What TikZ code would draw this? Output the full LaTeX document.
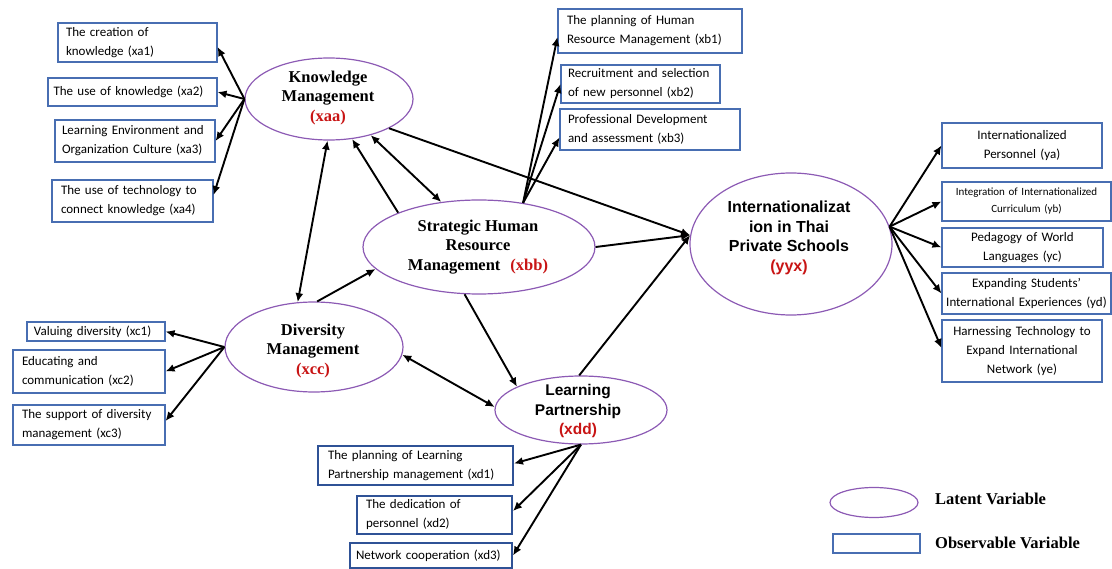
\documentclass[tikz,border=0pt]{standalone}
\usepackage{fontspec}
\setmainfont{Liberation Serif}
\newfontfamily\boxfont{Carlito}
\newfontfamily\arialfont{Liberation Sans}
\usetikzlibrary{arrows.meta,shapes.geometric}

\definecolor{latpurple}{RGB}{140,90,180}
\definecolor{boxblue}{RGB}{72,110,178}
\definecolor{boxdark}{RGB}{47,82,150}
\definecolor{lblred}{RGB}{200,20,20}

\begin{document}
\begin{tikzpicture}[x=1pt,y=-1pt,
  latent/.style={draw=latpurple, line width=1.2pt, ellipse, inner sep=0pt},
  lattext/.style={font=\fontsize{16.5}{19.5}\selectfont\bfseries, align=center, inner sep=0pt},
  sanstext/.style={font=\arialfont\fontsize{15.5}{19.5}\selectfont\bfseries, align=center, inner sep=0pt},
  obs/.style={draw=boxblue, line width=1.1pt, rectangle, inner sep=0pt, font=\boxfont\fontsize{13}{19}\selectfont, align=left},
  obsc/.style={obs, align=center},
  obsd/.style={obs, draw=boxdark, line width=2pt},
  legtext/.style={font=\fontsize{16.5}{19.5}\selectfont\bfseries, anchor=west, inner sep=0pt},
  arr/.style={line width=1.9pt, -{Latex[length=9pt,width=8pt]}},
  darr/.style={line width=1.9pt, {Latex[length=9pt,width=8pt]}-{Latex[length=9pt,width=8pt]}}
]
\useasboundingbox (0,0) rectangle (1112,569);

% ---------- latent variables ----------
\node[latent, minimum width=168, minimum height=82] (km) at (329,99) {};
\node[lattext] (kmt) at (328,98) {Knowledge\\Management\\\textcolor{lblred}{(xaa)}};

\node[latent, minimum width=232, minimum height=94] (shrm) at (479,247) {};
\node[lattext] (shrmt) at (478,247) {Strategic Human\\Resource\\Management\hspace{10pt}\textcolor{lblred}{(xbb)}};

\node[latent, minimum width=178, minimum height=90] (dm) at (314,347) {};
\node[lattext] (dmt) at (313,351) {Diversity\\Management\\\textcolor{lblred}{(xcc)}};

\node[latent, minimum width=172, minimum height=68] (lp) at (581,410) {};
\node[sanstext] (lpt) at (578,411) {Learning\\Partnership\\\textcolor{lblred}{(xdd)}};

\node[latent, minimum width=202, minimum height=142] (ii) at (791,244) {};
\node[sanstext, font=\arialfont\fontsize{16}{19.5}\selectfont\bfseries] (iit) at (789,238) {Internationalizat\\ion in Thai\\Private Schools\\\textcolor{lblred}{(yyx)}};

% ---------- observable variables ----------
\node[obs, minimum width=159, minimum height=39, text width=143] (xa1) at (137.5,42.5) {The creation of\\knowledge (xa1)};
\node[obs, minimum width=169, minimum height=28, text width=158] (xa2) at (132.5,92) {The use of knowledge (xa2)};
\node[obs, minimum width=160, minimum height=42, text width=146] (xa3) at (135,141) {Learning Environment and\\Organization Culture (xa3)};
\node[obs, minimum width=161, minimum height=42, text width=143] (xa4) at (132.5,201) {The use of technology to\\connect knowledge (xa4)};

\node[obs, minimum width=184, minimum height=44, text width=166] (xb1) at (650,31) {The planning of Human\\Resource Management (xb1)};
\node[obs, minimum width=159, minimum height=38, text width=145] (xb2) at (640.5,84) {Recruitment and selection\\of new personnel (xb2)};
\node[obs, minimum width=180, minimum height=41, text width=164] (xb3) at (650,129.5) {Professional Development\\and assessment (xb3)};

\node[obsc, minimum width=160, minimum height=45, text width=150] (ya) at (1022,145.5) {Internationalized\\Personnel (ya)};
\node[obsc, minimum width=169, minimum height=39, text width=165, font=\boxfont\fontsize{11}{17}\selectfont] (yb) at (1026.5,201.5) {Integration of Internationalized\\Curriculum (yb)};
\node[obsc, minimum width=161, minimum height=39, text width=151] (yc) at (1022.5,247.5) {Pedagogy of World\\Languages (yc)};
\node[obsc, minimum width=169, minimum height=41, text width=167] (yd) at (1026.5,293.5) {Expanding Students’\\International Experiences (yd)};
\node[obsc, minimum width=160, minimum height=62, text width=150] (ye) at (1022,351) {Harnessing Technology to\\Expand International\\Network (ye)};

\node[obs, minimum width=138, minimum height=19, text width=124] (xc1) at (96,331.5) {Valuing diversity (xc1)};
\node[obs, minimum width=152, minimum height=43, text width=134] (xc2) at (89,371.5) {Educating and\\communication (xc2)};
\node[obs, minimum width=152, minimum height=40, text width=134] (xc3) at (89,425) {The support of diversity\\management (xc3)};

\node[obsd, minimum width=195, minimum height=39, text width=175] (xd1) at (415.5,465.5) {The planning of Learning\\Partnership management (xd1)};
\node[obsd, minimum width=155, minimum height=38, text width=137] (xd2) at (434.5,515) {The dedication of\\personnel (xd2)};
\node[obsd, minimum width=162, minimum height=25, text width=150] (xd3) at (431,555.5) {Network cooperation (xd3)};

% ---------- legend ----------
\node[latent, minimum width=88, minimum height=30] (leglat) at (874,502.5) {};
\node[legtext] (leglatt) at (935,499) {Latent Variable};
\node[draw=boxblue, line width=1.1pt, rectangle, minimum width=87, minimum height=19, inner sep=0pt] (legobs) at (876.5,543.5) {};
\node[legtext] (legobst) at (935,543) {Observable Variable};

% ---------- measurement arrows ----------
\draw[arr] (km.west) -- ([yshift=-4.5pt]xa1.east);
\draw[arr] (km.west) -- (xa2.east);
\draw[arr] (km.west) -- (xa3.east);
\draw[arr] (km.west) -- ([yshift=6pt]xa4.east);

\draw[arr] (shrm.45.5) -- ([yshift=-6pt]xb1.west);
\draw[arr] (shrm.45.5) -- (xb2.west);
\draw[arr] (shrm.45.5) -- ([yshift=-8pt]xb3.west);

\draw[arr] (ii.10) -- (ya.west);
\draw[arr] (ii.10) -- (yb.west);
\draw[arr] (ii.10) -- (yc.west);
\draw[arr] (ii.10) -- (yd.west);
\draw[arr] (ii.10) -- ([yshift=3pt]ye.west);

\draw[arr] (dm.west) -- (xc1.east);
\draw[arr] (dm.west) -- (xc2.east);
\draw[arr] (dm.west) -- ([yshift=4pt]xc3.east);

\draw[arr] (lp.south) -- ([yshift=2pt]xd1.east);
\draw[arr] (lp.south) -- ([yshift=4pt]xd2.east);
\draw[arr] (lp.south) -- (xd3.east);

% ---------- structural arrows ----------
\draw[darr] (km.268) -- (dm.110);
\draw[arr] (shrm.157.5) -- (km.300);
\draw[darr] (km.319) -- (shrm.130);
\draw[arr] (km.334) -- (ii.175);
\draw[arr] (shrm.east) -- (ii.175);
\draw[arr] (lp.93) -- (ii.175);
\draw[arr] (shrm.253) -- (lp.160);
\draw[arr] (dm.86) -- (shrm.192.4);
\draw[darr] (dm.355.5) -- (lp.178.6);
\end{tikzpicture}
\end{document}
